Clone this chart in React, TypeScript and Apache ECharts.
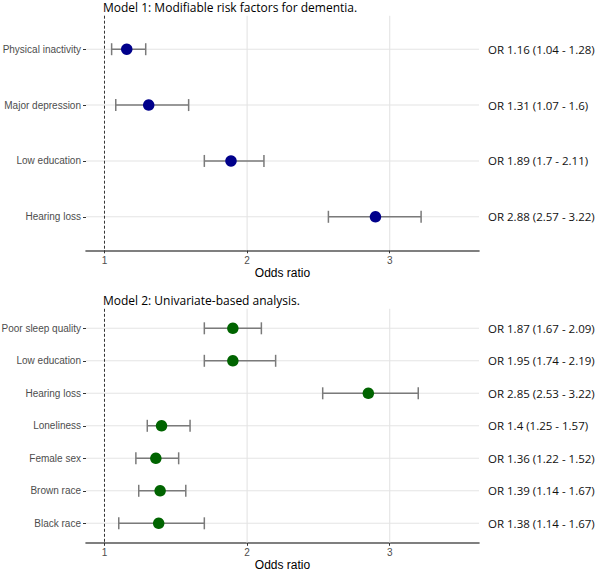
import React, { useEffect, useRef } from "react";
import * as echarts from "echarts";

const cats1 = ["Physical inactivity", "Major depression", "Low education", "Hearing loss"];
const or1 = [1.156, 1.31, 1.887, 2.9];
const lo1 = [1.05, 1.079, 1.7, 2.57];
const hi1 = [1.289, 1.59, 2.118, 3.22];
const text1 = [
  "OR 1.16 (1.04 - 1.28)",
  "OR 1.31 (1.07 - 1.6)",
  "OR 1.89 (1.7 - 2.11)",
  "OR 2.88 (2.57 - 3.22)",
];

const cats2 = [
  "Poor sleep quality",
  "Low education",
  "Hearing loss",
  "Loneliness",
  "Female sex",
  "Brown race",
  "Black race",
];
const or2 = [1.9, 1.9, 2.85, 1.4, 1.36, 1.39, 1.38];
const lo2 = [1.7, 1.7, 2.53, 1.3, 1.22, 1.24, 1.1];
const hi2 = [2.1, 2.2, 3.2, 1.6, 1.52, 1.57, 1.7];
const text2 = [
  "OR 1.87 (1.67 - 2.09)",
  "OR 1.95 (1.74 - 2.19)",
  "OR 2.85 (2.53 - 3.22)",
  "OR 1.4 (1.25 - 1.57)",
  "OR 1.36 (1.22 - 1.52)",
  "OR 1.39 (1.14 - 1.67)",
  "OR 1.38 (1.14 - 1.67)",
];

const titles = ["Model 1: Modifiable risk factors for dementia.", "Model 2: Univariate-based analysis."];
const xTicks = [1, 2, 3];
const xMin = 0.8703;
const xMax = 3.626;
const refLine = 1;

const LABEL_FONT = "Liberation Sans";
const TEXT_FONT = "Open Sans";

export default function App() {
  const ref = useRef<HTMLDivElement>(null);
  useEffect(() => {
    document.body.style.margin = "0";
    const chart = echarts.init(ref.current!, null, { renderer: "svg" });

    const panels = [
      { cats: cats1, or: or1, lo: lo1, hi: hi1, text: text1, color: "#00008B", top: 15.7, height: 234.6 },
      { cats: cats2, or: or2, lo: lo2, hi: hi2, text: text2, color: "#006400", top: 308.8, height: 234 },
    ];

    const grid: any[] = [];
    const xAxis: any[] = [];
    const yAxis: any[] = [];
    const series: any[] = [];
    const title: any[] = [];

    panels.forEach((p, gi) => {
      const n = p.cats.length;
      const idx = p.cats.map((_, i) => i);
      grid.push({
        left: 86,
        right: 121,
        top: p.top,
        height: p.height,
        containLabel: false,
        outerBoundsMode: "none",
      });
      title.push({
        text: titles[gi],
        left: 103,
        top: p.top - 15.5,
        padding: 0,
        textStyle: { fontFamily: TEXT_FONT, fontSize: 12, fontWeight: "normal", color: "#000", lineHeight: 15 },
      });
      xAxis.push({
        type: "value",
        gridIndex: gi,
        min: xMin,
        max: xMax,
        name: "Odds ratio",
        nameLocation: "middle",
        nameGap: 16.5,
        nameTextStyle: { fontFamily: LABEL_FONT, fontSize: 12, color: "#000" },
        axisLine: { show: true, onZero: false, lineStyle: { color: "#555", width: 1.6 } },
        axisTick: { show: true, length: 3, customValues: xTicks, lineStyle: { color: "#333" } },
        axisLabel: {
          customValues: xTicks,
          margin: 5,
          fontFamily: LABEL_FONT,
          fontSize: 10,
          color: "#4d4d4d",
          formatter: (v: number) => String(v),
        },
        splitLine: { show: false },
      });
      yAxis.push({
        type: "value",
        gridIndex: gi,
        inverse: true,
        min: -0.6,
        max: n - 1 + 0.6,
        axisLine: { show: false, onZero: false },
        axisTick: { show: true, length: 3, customValues: idx, lineStyle: { color: "#333" } },
        axisLabel: {
          customValues: idx,
          margin: 5,
          fontFamily: LABEL_FONT,
          fontSize: 10,
          color: "#4d4d4d",
          formatter: (v: number) => p.cats[Math.round(v)] ?? "",
        },
        splitLine: { show: false },
      });
      yAxis.push({
        type: "value",
        gridIndex: gi,
        position: "right",
        inverse: true,
        min: -0.6,
        max: n - 1 + 0.6,
        axisLine: { show: false, onZero: false },
        axisTick: { show: false },
        axisLabel: {
          customValues: idx,
          margin: 9,
          align: "left",
          fontFamily: TEXT_FONT,
          fontSize: 11.5,
          color: "#111",
          formatter: (v: number) => p.text[Math.round(v)] ?? "",
        },
        splitLine: { show: false },
      });
      const yi = gi * 2;
      // horizontal gridlines
      series.push({
        type: "custom",
        xAxisIndex: gi,
        yAxisIndex: yi,
        z: 1,
        silent: true,
        data: idx.map((i) => [xMin, i]),
        encode: { x: 0, y: 1 },
        renderItem: (params: any, api: any) => {
          const cs = params.coordSys;
          const y = api.coord([xMin, api.value(1)])[1];
          return {
            type: "line",
            shape: { x1: cs.x, y1: y, x2: cs.x + cs.width, y2: y },
            style: { stroke: "#e4e4e4", lineWidth: 1.1 },
          };
        },
      });
      // vertical gridlines + reference line
      series.push({
        type: "custom",
        xAxisIndex: gi,
        yAxisIndex: yi,
        z: 2,
        silent: true,
        data: xTicks.map((v) => [v, 0]),
        encode: { x: 0, y: 1 },
        renderItem: (params: any, api: any) => {
          const cs = params.coordSys;
          const v = api.value(0);
          const x = api.coord([v, 0])[0];
          const isRef = v === refLine;
          return {
            type: "line",
            shape: { x1: x, y1: cs.y, x2: x, y2: cs.y + cs.height },
            style: isRef
              ? { stroke: "#333", lineWidth: 1, lineDash: [3, 2] }
              : { stroke: "#e4e4e4", lineWidth: 1.1 },
          };
        },
      });
      // error bars
      series.push({
        type: "custom",
        xAxisIndex: gi,
        yAxisIndex: yi,
        z: 3,
        silent: true,
        data: idx.map((i) => [p.lo[i], i, p.hi[i]]),
        encode: { x: [0, 2], y: 1 },
        renderItem: (params: any, api: any) => {
          const a = api.coord([api.value(0), api.value(1)]);
          const b = api.coord([api.value(2), api.value(1)]);
          const h = 6;
          const st = { stroke: "#7a7a7a", lineWidth: 1.5 };
          return {
            type: "group",
            children: [
              { type: "line", shape: { x1: a[0], y1: a[1], x2: b[0], y2: b[1] }, style: st },
              { type: "line", shape: { x1: a[0], y1: a[1] - h, x2: a[0], y2: a[1] + h }, style: st },
              { type: "line", shape: { x1: b[0], y1: b[1] - h, x2: b[0], y2: b[1] + h }, style: st },
            ],
          };
        },
      });
      series.push({
        type: "scatter",
        xAxisIndex: gi,
        yAxisIndex: yi,
        z: 4,
        symbol: "circle",
        symbolSize: 11.5,
        itemStyle: { color: p.color, opacity: 1 },
        data: idx.map((i) => [p.or[i], i]),
      });
    });

    chart.setOption({
      animation: false,
      backgroundColor: "#fff",
      title,
      grid,
      xAxis,
      yAxis,
      series,
    });
    return () => chart.dispose();
  }, []);
  return <div ref={ref} style={{ width: 600, height: 571 }} />;
}
